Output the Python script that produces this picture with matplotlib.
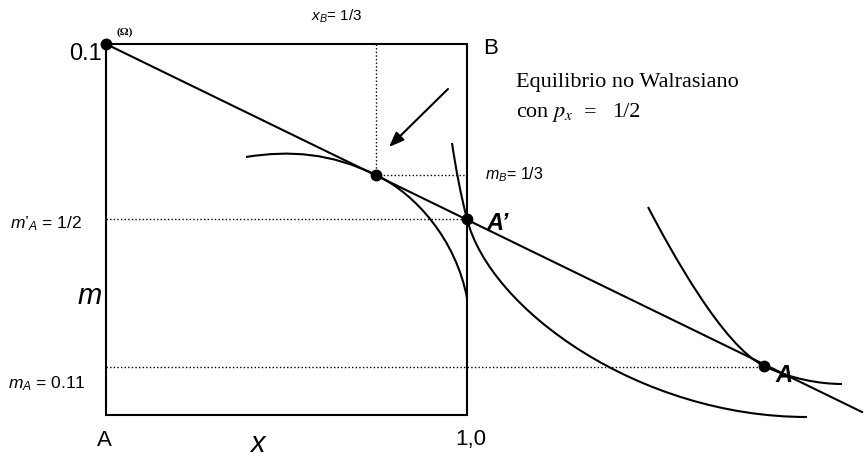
import matplotlib
matplotlib.use("Agg")
import matplotlib.pyplot as plt
from matplotlib.path import Path
from matplotlib.patches import PathPatch

# --- Data (picture coordinates, y grows downwards) ---
BOX_X = [106, 467]          # A origin .. 1,0
BOX_Y = [44, 415]           # 0.1 .. A origin

BUDGET_X = [106, 862]
BUDGET_Y = [44, 412]

POINT_X = [106, 376, 467, 764]      # Omega, tangency, A', A
POINT_Y = [44, 175, 219, 366]

# indifference curves as cubic Bezier control points
CURVE_B = [(246, 157), (290, 150), (331, 153), (376, 175),
           (416, 194), (456, 240), (467, 298)]
CURVE_A1 = [(452, 143), (456, 170), (461, 196), (467, 219),
            (490, 310), (640, 417), (807, 417)]
CURVE_A2 = [(648, 207), (671, 251), (723, 346), (764, 366),
            (791, 379), (820, 384), (842, 384)]

# dotted guides: (x0, x1, y0, y1)
GUIDES = [(376, 376, 44, 175), (376, 467, 175, 175),
          (106, 467, 219, 219), (106, 764, 367, 367)]

ARROW_FROM = (448, 89)
ARROW_TO = (389, 147)

plt.rcParams["font.family"] = ["Liberation Sans", "DejaVu Sans"]
plt.rcParams["mathtext.fontset"] = "custom"
plt.rcParams["mathtext.rm"] = "Liberation Sans"
plt.rcParams["mathtext.it"] = "Liberation Sans:italic"

fig = plt.figure(figsize=(8.65, 4.59), dpi=100)
ax = fig.add_axes([0, 0, 1, 1])
ax.set_xlim(0, 865)
ax.set_ylim(459, 0)
ax.axis("off")

# box
ax.plot([BOX_X[0], BOX_X[1], BOX_X[1], BOX_X[0], BOX_X[0]],
        [BOX_Y[0], BOX_Y[0], BOX_Y[1], BOX_Y[1], BOX_Y[0]],
        color="black", lw=1.5, solid_joinstyle="miter")

for x0, x1, y0, y1 in GUIDES:
    ax.plot([x0, x1], [y0, y1], color="black", lw=1.0, ls=(0, (1, 1.6)))

ax.plot(BUDGET_X, BUDGET_Y, color="black", lw=1.5)


def bezier(points):
    codes = [Path.MOVETO] + [Path.CURVE4] * (len(points) - 1)
    return PathPatch(Path(points, codes), fill=False, lw=1.5, ec="black")


for pts in (CURVE_B, CURVE_A1, CURVE_A2):
    ax.add_patch(bezier(pts))

ax.plot(POINT_X, POINT_Y, "o", color="black", ms=7.5, ls="none")

ax.annotate("", xy=ARROW_TO, xytext=ARROW_FROM,
            arrowprops=dict(arrowstyle="-|>,head_length=0.9,head_width=0.35",
                            color="black", lw=1.5, shrinkA=0, shrinkB=0))

# labels
ax.text(311, 16, r"$x_B$= 1/3", fontsize=11, ha="left", va="center")
ax.text(125, 32, "(Ω)", fontsize=8, fontweight="bold", ha="center", va="center",
        family=["Liberation Serif"])
ax.text(102, 54, "0.1", fontsize=17, ha="right", va="center")
ax.text(483, 48, "B", fontsize=16, ha="left", va="center")

serif = ["Liberation Serif"]
ax.text(516, 87, "Equilibrio no Walrasiano", fontsize=16, ha="left",
        va="baseline", family=serif)
ax.text(516, 117, "con", fontsize=16, ha="left", va="baseline", family=serif)
ax.text(552, 117, r"$p_x$", fontsize=16, ha="left", va="baseline",
        family=serif, math_fontfamily="stix")
ax.text(584, 117, "=", fontsize=16, ha="left", va="baseline", family=serif)
ax.text(612, 117, "1/2", fontsize=16, ha="left", va="baseline", family=serif)

ax.text(485, 175, r"$m_B$= 1/3", fontsize=11.5, ha="left", va="center")
ax.text(10, 224, r"$m$’$_A$ = 1/2", fontsize=12.5, ha="left", va="center")
ax.text(486, 224, "A’", fontsize=17, fontweight="bold", style="italic",
        ha="left", va="center")
ax.text(90, 296, "m", fontsize=21, style="italic", ha="center", va="center")
ax.text(775, 376, "A", fontsize=17, fontweight="bold", style="italic",
        ha="left", va="center")
ax.text(8, 384, r"$m_A$ = 0.11", fontsize=12.5, ha="left", va="center")
ax.text(104, 440, "A", fontsize=16, ha="center", va="center")
ax.text(257, 444, "x", fontsize=21, style="italic", ha="center", va="center")
ax.text(471, 440, "1,0", fontsize=16, ha="center", va="center")

fig.savefig("out.png", dpi=100)
